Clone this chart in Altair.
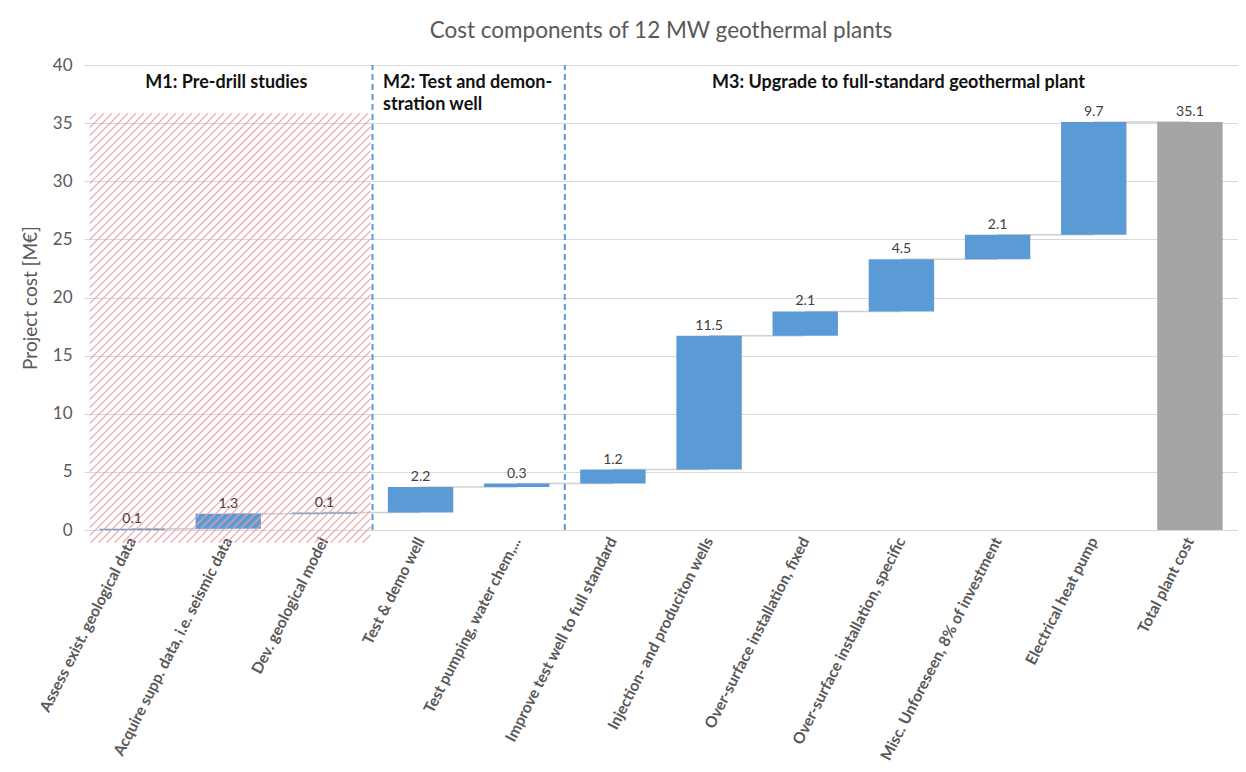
import altair as alt
import numpy as np
import pandas as pd

# ---------------- data ----------------
categories = [
    "Assess exist. geological data",
    "Acquire supp. data, i.e. seismic data",
    "Dev. geological model",
    "Test & demo well",
    "Test pumping, water chem,...",
    "Improve test well to full standard",
    "Injection- and produciton wells",
    "Over-surface installation, fixed",
    "Over-surface installation, specific",
    "Misc. Unforeseen, 8% of investment",
    "Electrical heat pump",
    "Total plant cost",
]
step_values = [0.1, 1.3, 0.1, 2.2, 0.3, 1.2, 11.5, 2.1, 4.5, 2.1, 9.7]
total_value = 35.1

# phase annotations (x in category-slot units, y in M€)
phase_text = ["M1: Pre-drill studies", "M2: Test and demon-", "stration well",
              "M3: Upgrade to full-standard geothermal plant"]
phase_x = [1.48, 3.11, 3.11, 8.47]
phase_y = [38.45, 38.45, 36.6, 38.45]
phase_align = ["center", "left", "left", "center"]

# phase separators (slot boundaries)
separator_x = [3.0, 5.0]
# M1 hatched area: slot units and M€
hatch_x = [0.06, 2.98]
hatch_y = [-1.1, 35.85]

# ---------------- layout ----------------
W, H = 1154, 465
NSLOT = len(categories)
YMAX = 40
PX_X = W / NSLOT   # px per slot
PX_Y = H / YMAX    # px per M€

starts, ends = [], []
acc = 0.0
for v in step_values:
    starts.append(acc)
    acc += v
    ends.append(acc)
starts.append(0.0)
ends.append(total_value)
kinds = ["step"] * len(step_values) + ["total"]
labels = [f"{v:.1f}" for v in step_values] + [f"{total_value:.1f}"]

bars_df = pd.DataFrame({
    "category": categories, "start": starts, "end": ends,
    "kind": kinds, "label": labels,
})

conn_df = pd.DataFrame({
    "x": [i + 0.5 for i in range(len(step_values))],
    "x2": [i + 1.5 for i in range(len(step_values))],
    "y": ends[:len(step_values)],
})

# hatch lines "/" in pixel-proportional space, converted back to data units
U0, U1 = hatch_x[0] * PX_X, hatch_x[1] * PX_X
V0, V1 = hatch_y[0] * PX_Y, hatch_y[1] * PX_Y
spacing = 8.0
rows = []
for c in np.arange(V0 - U1, V1 - U0, spacing):
    ua = max(U0, V0 - c)
    ub = min(U1, V1 - c)
    if ub > ua:
        rows.append({"x": ua / PX_X, "x2": ub / PX_X,
                     "y": (ua + c) / PX_Y, "y2": (ub + c) / PX_Y})
hatch_df = pd.DataFrame(rows)

sep_df = pd.DataFrame({"x": separator_x, "y": [0] * 2, "y2": [YMAX] * 2})
phase_df = pd.DataFrame({"text": phase_text, "x": phase_x, "y": phase_y, "align": phase_align})

yscale = alt.Scale(domain=[0, YMAX], nice=False, zero=False)
YT = "Project cost [M€]"
xq = alt.Scale(domain=[0, NSLOT], nice=False, zero=False)
xband = alt.Scale(domain=categories, paddingInner=0.32, paddingOuter=0.16)

connectors = alt.Chart(conn_df).mark_rule(color="#d0d0d0", strokeWidth=1.5).encode(
    x=alt.X("x:Q", scale=xq, axis=None),
    x2="x2:Q",
    y=alt.Y("y:Q", scale=yscale, title=YT, axis=alt.Axis(values=list(range(0, 41, 5)))),
)

bars = alt.Chart(bars_df).mark_bar().encode(
    x=alt.X("category:N", sort=categories, scale=xband, title=None),
    y=alt.Y("start:Q", scale=yscale, title=YT),
    y2="end:Q",
    color=alt.Color("kind:N", scale=alt.Scale(domain=["step", "total"],
                                              range=["#5b9bd5", "#a5a5a5"]), legend=None),
)

hatch = alt.Chart(hatch_df).mark_rule(color="#eba3a6", strokeWidth=1.5, opacity=0.8, clip=False).encode(
    x=alt.X("x:Q", scale=xq, axis=None),
    x2="x2:Q",
    y=alt.Y("y:Q", scale=yscale, title=YT),
    y2="y2:Q",
)

separators = alt.Chart(sep_df).mark_rule(color="#5b9bd5", strokeWidth=2, strokeDash=[6, 4]).encode(
    x=alt.X("x:Q", scale=xq, axis=None),
    y=alt.Y("y:Q", scale=yscale, title=YT),
    y2="y2:Q",
)

value_labels = alt.Chart(bars_df).mark_text(
    baseline="bottom", dy=-3, font="Lato", fontSize=14, color="#404040"
).encode(
    x=alt.X("category:N", sort=categories, scale=xband, axis=None),
    y=alt.Y("end:Q", scale=yscale, title=YT),
    text="label:N",
)

phase_left = alt.Chart(phase_df[phase_df["align"] == "left"]).mark_text(
    align="left", baseline="middle", font="Lato", fontSize=18, fontWeight="bold", color="#111111"
).encode(
    x=alt.X("x:Q", scale=xq, axis=None),
    y=alt.Y("y:Q", scale=yscale, title=YT),
    text="text:N",
)
phase_center = alt.Chart(phase_df[phase_df["align"] == "center"]).mark_text(
    align="center", baseline="middle", font="Lato", fontSize=18, fontWeight="bold", color="#111111"
).encode(
    x=alt.X("x:Q", scale=xq, axis=None),
    y=alt.Y("y:Q", scale=yscale, title=YT),
    text="text:N",
)

chart = alt.layer(
    connectors, bars, hatch, separators, value_labels, phase_left, phase_center
).resolve_scale(x="independent").properties(
    width=W, height=H,
    autosize=alt.AutoSizeParams(type="none"),
    padding={"left": 76, "top": 57, "right": 0, "bottom": 232},
    title=alt.TitleParams("Cost components of 12 MW geothermal plants", font="Lato",
                          fontSize=22.5, fontWeight="normal", color="#595959", offset=14),
).configure_view(stroke=None).configure_axis(
    labelFont="Lato", titleFont="Lato", domain=False, ticks=False,
    gridColor="#d9d9d9", labelColor="#595959", titleColor="#595959",
).configure_axisX(
    grid=False, labelAngle=-63, labelFontSize=15.5, labelFontWeight="bold",
    labelPadding=8, labelLimit=400,
).configure_axisY(
    labelFontSize=17, titleFontSize=19, titleFontWeight="normal",
    labelPadding=12, titlePadding=12,
)

chart.save("out.html", embed_options={"renderer": "svg", "actions": False})
